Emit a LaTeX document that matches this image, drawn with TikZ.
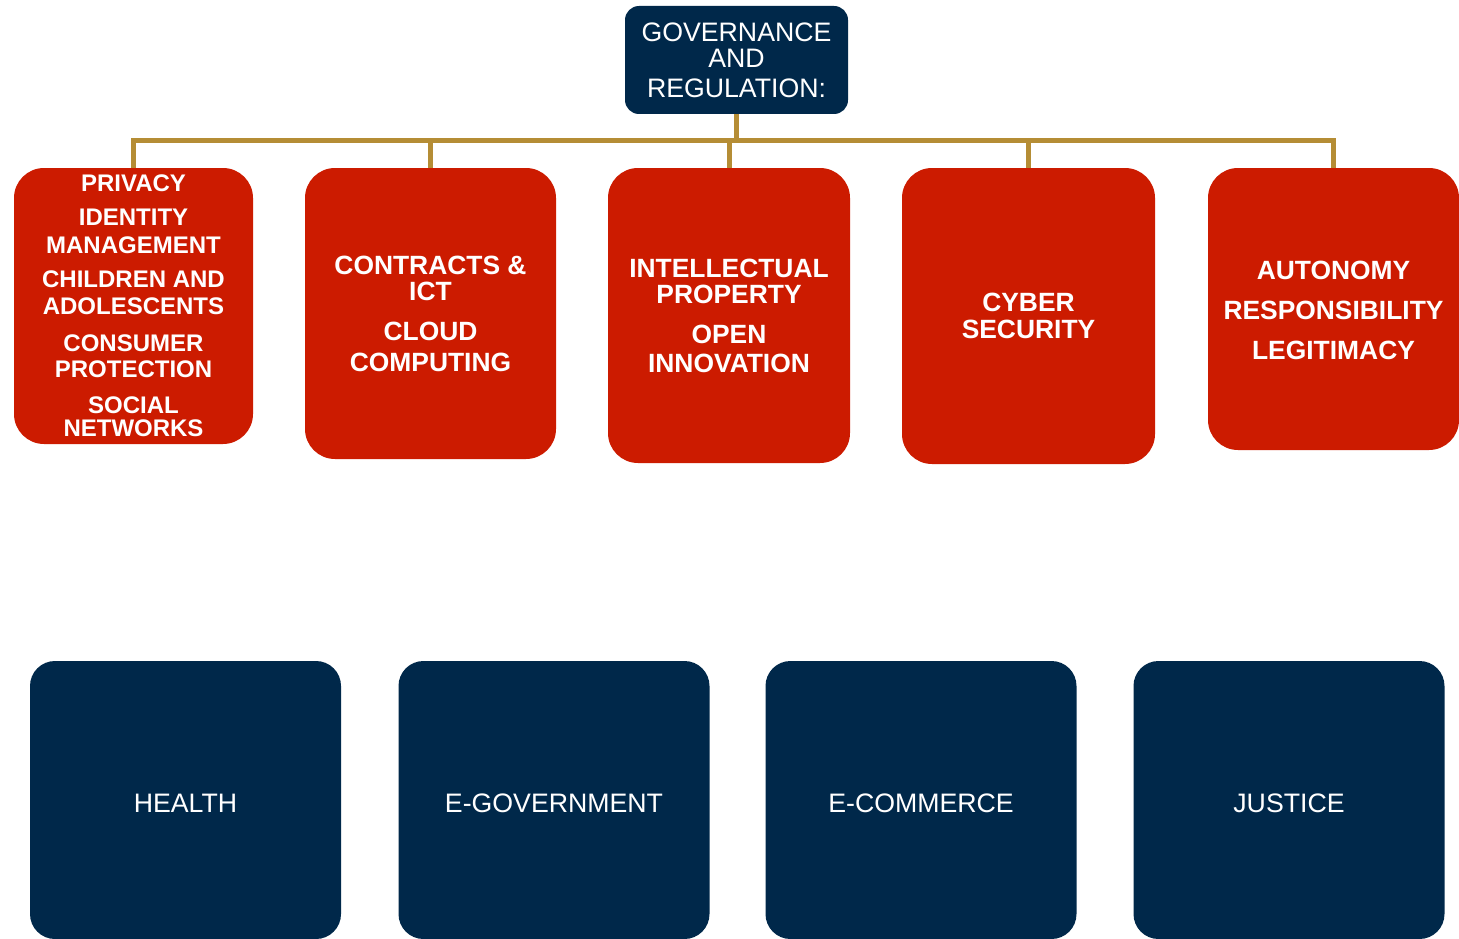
\documentclass[tikz,border=0pt]{standalone}
\usepackage{fontspec}
\setmainfont{Liberation Sans}
\definecolor{navy}{HTML}{00284A}
\definecolor{redc}{HTML}{CC1B00}
\definecolor{gold}{HTML}{B58D35}
\begin{document}
\begin{tikzpicture}[x=1pt,y=-1pt,
  topbox/.style={fill=navy, rounded corners=14pt, inner sep=0pt, minimum width=223pt, minimum height=108pt},
  redbox/.style={fill=redc, rounded corners=30pt, inner sep=0pt},
  botbox/.style={fill=navy, rounded corners=25pt, inner sep=0pt, minimum width=311pt, minimum height=278pt},
  rt/.style={anchor=base, text=white, inner sep=0pt, font=\bfseries\fontsize{24}{26}\selectfont},
  rtb/.style={anchor=base, text=white, inner sep=0pt, font=\bfseries\fontsize{26.4}{28}\selectfont},
  nt/.style={anchor=base, text=white, inner sep=0pt, font=\fontsize{26.7}{28}\selectfont},
  conn/.style={draw=gold, line width=5pt, line join=miter}
]
\useasboundingbox (0,0) rectangle (1459,939);

% top box
\node[topbox] (gov) at (736.5,60) {};
\node[nt] (gova) at (736.5,42) {GOVERNANCE};
\node[nt] (govb) at (736.5,68) {AND};
\node[nt] (govc) at (736.5,98) {REGULATION:};

% red boxes
\node[redbox, minimum width=239pt, minimum height=276pt] (r1) at (133.5,306) {};
\node[redbox, minimum width=251pt, minimum height=291pt] (r2) at (430.5,313.5) {};
\node[redbox, minimum width=242pt, minimum height=295pt] (r3) at (729,315.5) {};
\node[redbox, minimum width=253pt, minimum height=296pt] (r4) at (1028.5,316) {};
\node[redbox, minimum width=251pt, minimum height=282pt] (r5) at (1333.5,309) {};

% connectors
\coordinate (bar) at (0,141);
\coordinate (j) at (729,141);
\draw[conn] (gov.south) -- (gov.south |- bar);
\draw[conn] (r1.north) -- (r1.north |- bar) -- (r5.north |- bar) -- (r5.north);
\draw[conn] (r2.north |- bar) -- (r2.north);
\draw[conn] (j) -- (r3.north);
\draw[conn] (r4.north |- bar) -- (r4.north);

% red box texts
\node[rt] (t1a) at (133.5,191) {PRIVACY};
\node[rt] (t1b) at (133.5,225) {IDENTITY};
\node[rt] (t1c) at (133.5,253) {MANAGEMENT};
\node[rt] (t1d) at (133.5,287) {CHILDREN AND};
\node[rt] (t1e) at (133.5,314) {ADOLESCENTS};
\node[rt] (t1f) at (133.5,351) {CONSUMER};
\node[rt] (t1g) at (133.5,377) {PROTECTION};
\node[rt] (t1h) at (133.5,413) {SOCIAL};
\node[rt] (t1i) at (133.5,436) {NETWORKS};

\node[rtb] (t2a) at (430.5,274) {CONTRACTS \&};
\node[rtb] (t2b) at (430.5,300) {ICT};
\node[rtb] (t2c) at (430.5,340) {CLOUD};
\node[rtb] (t2d) at (430.5,371) {COMPUTING};

\node[rtb] (t3a) at (729,277) {INTELLECTUAL};
\node[rtb] (t3b) at (729,303) {PROPERTY};
\node[rtb] (t3c) at (729,343) {OPEN};
\node[rtb] (t3d) at (729,372) {INNOVATION};

\node[rtb] (t4a) at (1028.5,311) {CYBER};
\node[rtb] (t4b) at (1028.5,338) {SECURITY};

\node[rtb] (t5a) at (1333.5,279) {AUTONOMY};
\node[rtb] (t5b) at (1333.5,319) {RESPONSIBILITY};
\node[rtb] (t5c) at (1333.5,359) {LEGITIMACY};

% bottom boxes
\node[botbox] (b1) at (185.5,800) {};
\node[botbox] (b2) at (554,800) {};
\node[botbox] (b3) at (921,800) {};
\node[botbox] (b4) at (1289,800) {};
\node[nt] (b1t) at (185.5,812) {HEALTH};
\node[nt] (b2t) at (554,812) {E-GOVERNMENT};
\node[nt] (b3t) at (921,812) {E-COMMERCE};
\node[nt] (b4t) at (1289,812) {JUSTICE};
\end{tikzpicture}
\end{document}
